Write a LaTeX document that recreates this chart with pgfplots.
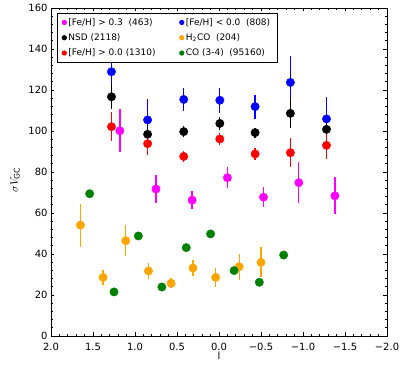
\documentclass[border=0pt]{standalone}
\usepackage{pgfplots}
\pgfplotsset{compat=1.18}
\usepackage{fontspec}
\setmainfont{DejaVu Sans}

\definecolor{cmag}{HTML}{FF00FF}
\definecolor{cblue}{HTML}{0000FF}
\definecolor{cred}{HTML}{FF0000}
\definecolor{corange}{HTML}{FFA500}
\definecolor{cgreen}{HTML}{008000}

\pgfplotsset{
  pt/.style={only marks, mark=*, mark size=4.2bp, color=#1,
    mark options={draw=#1, fill=#1, solid},
    error bars/.cd, y dir=both, y explicit, error mark=none,
    error bar style={line width=1.3bp, color=#1}},
}

\begin{document}
\begin{tikzpicture}
\begin{axis}[
    name=ax,
    scale only axis,
    width=336bp, height=328bp,
    x dir=reverse,
    xmin=-2, xmax=2,
    ymin=0, ymax=160,
    xtick={-2,-1.5,-1,-0.5,0,0.5,1,1.5,2},
    xticklabels={−2.0,−1.5,−1.0,−0.5,0.0,0.5,1.0,1.5,2.0},
    ytick={0,20,40,60,80,100,120,140,160},
    yticklabels={0,20,40,60,80,100,120,140,160},
    minor x tick num=4,
    minor y tick num=4,
    tick align=inside,
    major tick length=3.5bp,
    minor tick length=2bp,
    axis line style={line width=0.9bp},
    every tick/.style={black, line width=0.6bp},
    ticklabel style={font=\fontsize{10}{12}\selectfont},
    xticklabel style={yshift=-3.5bp},
    xlabel={l},
    xlabel style={font=\fontsize{10}{12}\selectfont, at={(axis description cs:0.5,0)}, anchor=north, yshift=-12.7bp},
    ylabel={$\sigma V_{\rm GC}$},
    ylabel style={font=\fontsize{11}{13}\selectfont, at={(axis description cs:-0.107,0.476)}, anchor=center},
    legend columns=2,
    legend cell align=left,
    legend image code/.code={\draw[mark repeat=2,mark phase=2,#1,mark size=2.2bp] plot coordinates {(0bp,0bp)(7bp,0bp)(13bp,0bp)};},
    legend style={at={(0.017,0.985)}, anchor=north west, draw=black, line width=0.8bp,
      font=\fontsize{9}{10.8}\selectfont,
      /tikz/every even column/.append style={column sep=22bp},
      row sep=3bp, inner xsep=5bp, inner ysep=3bp},
]

% [Fe/H] > 0.3
\addplot[pt=cmag] coordinates {
  (1.18,100.1) +- (0,10.5)
  (0.75,71.7) +- (0,6.7)
  (0.32,66.3) +- (0,4.5)
  (-0.10,77.2) +- (0,5.0)
  (-0.53,67.7) +- (0,5.0)
  (-0.95,74.8) +- (0,10.0)
  (-1.38,68.4) +- (0,9.0)
};
\addlegendentry{[Fe/H] > 0.3~ (463)}

% [Fe/H] < 0.0
\addplot[pt=cblue] coordinates {
  (1.28,128.9) +- (0,14.0)
  (0.85,105.4) +- (0,10.0)
  (0.42,115.4) +- (0,5.8)
  (-0.01,115.0) +- (0,6.0)
  (-0.43,111.9) +- (0,5.9)
  (-0.85,123.7) +- (0,13.0)
  (-1.28,105.9) +- (0,10.5)
};
\addlegendentry{[Fe/H] < 0.0~ (808)}

% NSD
\addplot[pt=black] coordinates {
  (1.28,116.7) +- (0,6.0)
  (0.85,98.4) +- (0,2.5)
  (0.42,99.7) +- (0,2.5)
  (-0.01,103.7) +- (0,3.0)
  (-0.43,99.2) +- (0,2.5)
  (-0.85,108.6) +- (0,7.0)
  (-1.28,100.8) +- (0,3.0)
};
\addlegendentry{NSD (2118)}

% H2CO
\addplot[pt=corange] coordinates {
  (1.65,54.1) +- (0,10.5)
  (1.38,28.6) +- (0,3.7)
  (1.11,46.5) +- (0,7.5)
  (0.84,31.7) +- (0,3.9)
  (0.57,25.7) +- (0,2.5)
  (0.31,33.2) +- (0,4.0)
  (0.04,28.6) +- (0,4.7)
  (-0.24,33.8) +- (0,6.3)
  (-0.50,35.9) +- (0,7.3)
};
\addlegendentry{$\mathrm{H_2CO}$~ (204)}

% [Fe/H] > 0.0
\addplot[pt=cred] coordinates {
  (1.28,102.1) +- (0,7.0)
  (0.85,93.8) +- (0,5.5)
  (0.42,87.6) +- (0,2.5)
  (-0.01,96.1) +- (0,3.0)
  (-0.43,88.8) +- (0,3.0)
  (-0.85,89.4) +- (0,7.0)
  (-1.28,93.0) +- (0,6.5)
};
\addlegendentry{[Fe/H] > 0.0 (1310)}

% CO (3-4)
\addplot[pt=cgreen] coordinates {
  (1.54,69.4) +- (0,0)
  (1.25,21.5) +- (0,0)
  (0.96,48.8) +- (0,0)
  (0.68,23.9) +- (0,0)
  (0.39,43.1) +- (0,0)
  (0.10,49.8) +- (0,0)
  (-0.18,31.9) +- (0,0)
  (-0.48,26.2) +- (0,0)
  (-0.77,39.5) +- (0,0)
};
\addlegendentry{CO (3-4)~ (95160)}

\end{axis}
\path (ax.south west) ++(-51bp,-51bp) coordinate (bl);
\path (ax.south west) ++(356bp,336bp) coordinate (tr);
\path (bl) rectangle (tr);
\end{tikzpicture}
\end{document}
